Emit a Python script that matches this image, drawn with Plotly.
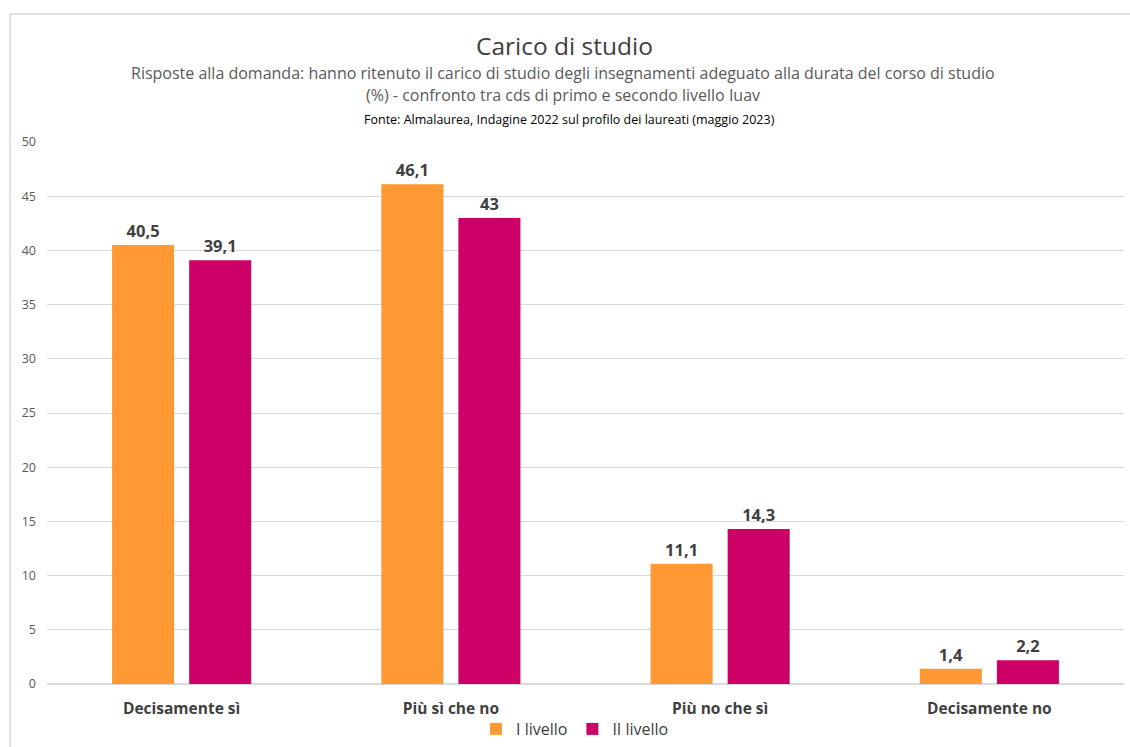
import plotly.graph_objects as go

categories = ["Decisamente sì", "Più sì che no", "Più no che sì", "Decisamente no"]
primo_livello = [40.5, 46.1, 11.1, 1.4]
secondo_livello = [39.1, 43, 14.3, 2.2]
series_names = ["I livello", "II livello"]
y_ticks = [0, 5, 10, 15, 20, 25, 30, 35, 40, 45, 50]

FONT = "Open Sans"


def fmt(v):
    return f"{v:g}".replace(".", ",")


fig = go.Figure()
for name, vals, color in [
    (series_names[0], primo_livello, "#FF9933"),
    (series_names[1], secondo_livello, "#CC0066"),
]:
    fig.add_trace(go.Bar(
        x=categories, y=vals, name=name,
        marker=dict(color=color, line=dict(width=0)),
        text=[fmt(v) for v in vals], textposition="outside",
        textfont=dict(family=FONT, size=16.5, color="#404040", weight="bold"),
        cliponaxis=False,
    ))

# plot area geometry in pixels (used for paper coordinates of decorations)
L, R, T, B = 47, 6, 142, 63
H = 747 - T - B
W = 1130 - L - R


def py(p):
    return (747 - B - p) / H


def px(p):
    return (p - L) / W


fig.update_layout(
    width=1130, height=747,
    margin=dict(l=L, r=R, t=T, b=B, autoexpand=False),
    paper_bgcolor="white", plot_bgcolor="white",
    barmode="group", bargap=0.4275, bargroupgap=0.195,
    showlegend=True,
    legend=dict(orientation="h", x=px(575), xanchor="center", y=py(729), yanchor="middle",
                font=dict(family=FONT, size=16, color="#404040"),
                bgcolor="rgba(0,0,0,0)",
                itemwidth=30, traceorder="normal", itemclick=False),
    xaxis=dict(showgrid=False, showline=False, ticks="", automargin=False,
               tickfont=dict(family=FONT, size=15.5, color="#404040", weight="bold"),
               ticklabelstandoff=13),
    yaxis=dict(range=[0, 50], tickvals=y_ticks, showgrid=True, gridcolor="#D9D9D9",
               zeroline=True, zerolinecolor="#D9D9D9", zerolinewidth=1.5,
               showline=False, ticks="", automargin=False,
               tickfont=dict(family=FONT, size=12.5, color="#595959"),
               ticklabelstandoff=10),
    font=dict(family=FONT),
    shapes=[dict(type="rect", xref="paper", yref="paper",
                 x0=px(10), x1=px(1140), y0=py(14), y1=py(760),
                 line=dict(color="#D9D9D9", width=1.5), fillcolor="rgba(0,0,0,0)",
                 layer="below")],
    annotations=[
        dict(text="Carico di studio", x=px(564), xref="paper", y=py(45), yref="paper",
             yanchor="middle", showarrow=False,
             font=dict(family=FONT, size=24.5, color="#404040")),
        dict(text="Risposte alla domanda: hanno ritenuto il carico di studio degli insegnamenti adeguato alla durata del corso di studio",
             x=px(563), xref="paper", y=py(73), yref="paper", yanchor="middle", showarrow=False,
             font=dict(family=FONT, size=16, color="#595959")),
        dict(text="(%) - confronto tra cds di primo e secondo livello Iuav",
             x=px(563), xref="paper", y=py(95), yref="paper", yanchor="middle", showarrow=False,
             font=dict(family=FONT, size=16, color="#595959")),
        dict(text="Fonte: Almalaurea, Indagine 2022 sul profilo dei laureati (maggio 2023)",
             x=px(569), xref="paper", y=py(119), yref="paper", yanchor="middle", showarrow=False,
             font=dict(family=FONT, size=12.5, color="#000000")),
    ],
)

fig.write_html("out.html")
